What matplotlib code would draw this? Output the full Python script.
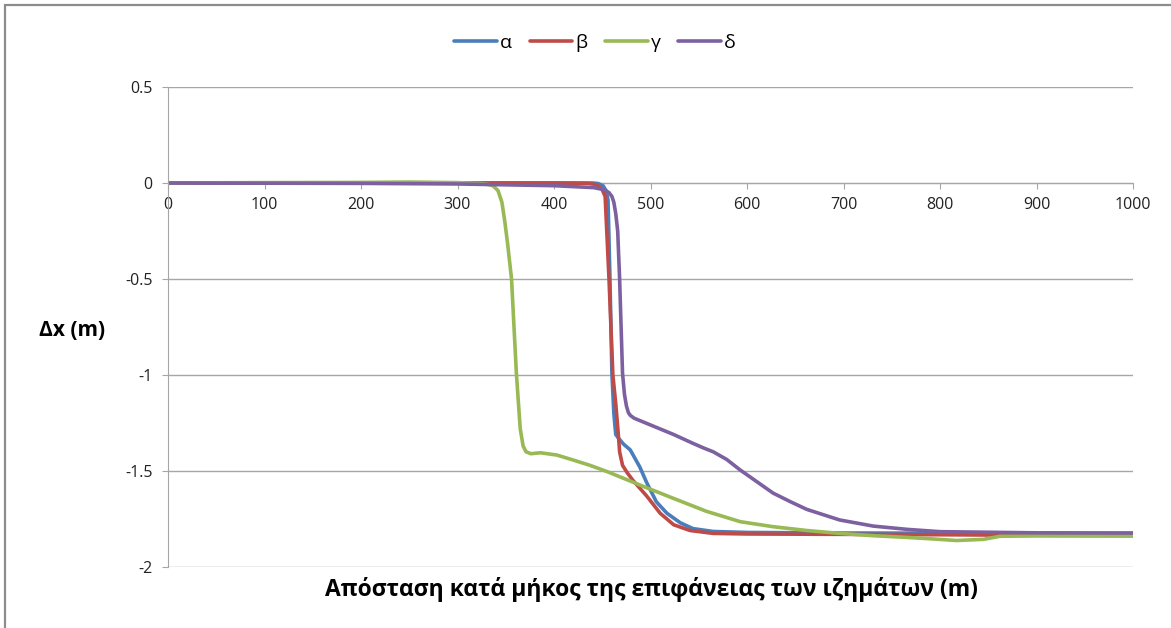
import matplotlib.pyplot as plt
from matplotlib.patches import Rectangle

plt.rcParams['font.family'] = ['Open Sans', 'DejaVu Sans']

# Δεδομένα (διαβασμένα από το γράφημα)
alpha_x = [0, 100, 200, 300, 400, 440, 446, 451, 454, 456, 458, 460, 462, 464, 467, 472, 479, 489,
           496, 506, 517, 531, 544, 565, 600, 700, 800, 900, 1000]
alpha_y = [0, 0, 0, 0, 0, 0, -0.003, -0.015, -0.04, -0.09, -0.5, -0.99, -1.2, -1.31, -1.33, -1.36, -1.39, -1.48,
           -1.56, -1.66, -1.72, -1.77, -1.80, -1.815, -1.82, -1.823, -1.824, -1.825, -1.825]

beta_x = [0, 100, 200, 300, 400, 435, 441, 446, 450, 453, 457, 461, 464, 466.5, 468, 471, 476, 482, 496,
          510, 524, 541, 565, 600, 700, 800, 900, 1000]
beta_y = [0, 0, 0, 0, 0, -0.002, -0.006, -0.015, -0.035, -0.07, -0.5, -1.0, -1.15, -1.3, -1.40, -1.47, -1.51,
          -1.55, -1.63, -1.72, -1.78, -1.81, -1.825, -1.828, -1.83, -1.832, -1.835, -1.837]

gamma_x = [0, 100, 200, 250, 300, 325, 332, 337, 342, 346, 349, 352, 356, 361, 365, 368, 371, 376, 386,
           403, 420, 437, 455, 489, 524, 558, 593, 627, 662, 696, 731, 766, 790, 817, 845, 862, 900, 1000]
gamma_y = [0, 0.002, 0.003, 0.005, 0.002, -0.003, -0.008, -0.015, -0.04, -0.1, -0.2, -0.32, -0.5, -0.99,
           -1.28, -1.37, -1.40, -1.41, -1.405, -1.417, -1.443, -1.47, -1.503, -1.573, -1.643, -1.71, -1.764,
           -1.79, -1.81, -1.825, -1.837, -1.846, -1.853, -1.862, -1.856, -1.84, -1.838, -1.838]

delta_x = [0, 200, 300, 400, 441, 452, 457, 460, 462, 464, 466, 468, 471, 473, 475, 477, 479, 483, 524,
           544, 555, 565, 579, 593, 610, 627, 645, 662, 696, 731, 766, 800, 900, 1000]
delta_y = [0, -0.002, -0.005, -0.014, -0.024, -0.035, -0.05, -0.07, -0.1, -0.16, -0.25, -0.5, -0.99, -1.1,
           -1.16, -1.195, -1.21, -1.225, -1.31, -1.356, -1.38, -1.40, -1.44, -1.495, -1.555, -1.615, -1.66,
           -1.70, -1.755, -1.787, -1.804, -1.816, -1.822, -1.823]

series = [
    ("α", alpha_x, alpha_y, "#4A7EBB"),
    ("β", beta_x, beta_y, "#BE4B48"),
    ("γ", gamma_x, gamma_y, "#98B954"),
    ("δ", delta_x, delta_y, "#7D60A0"),
]

x_ticks = list(range(0, 1001, 100))
y_ticks = [0.5, 0, -0.5, -1, -1.5, -2]
y_tick_labels = ["0.5", "0", "-0.5", "-1", "-1.5", "-2"]

GRID = "#A6A6A6"

fig = plt.figure(figsize=(11.71, 6.28), dpi=100)
ax = fig.add_axes([168 / 1171, 1 - 567 / 628, (1133 - 168) / 1171, (567 - 87) / 628])

for name, xs, ys, col in series:
    ax.plot(xs, ys, color=col, lw=2.6, label=name, solid_capstyle="round", solid_joinstyle="round")

ax.set_xlim(0, 1000)
ax.set_ylim(-2, 0.5)
ax.set_xticks(x_ticks)
ax.set_yticks(y_ticks)
ax.set_yticklabels(y_tick_labels)

ax.grid(axis="y", color=GRID, lw=1)
ax.set_axisbelow(True)
for s in ["top", "right"]:
    ax.spines[s].set_visible(False)
ax.spines["bottom"].set_position(("data", 0))
ax.spines["bottom"].set_color(GRID)
ax.spines["left"].set_color(GRID)
ax.spines["bottom"].set_zorder(0.5)
ax.tick_params(axis="x", direction="out", length=4, color=GRID, pad=6, labelsize=11.5, labelcolor="#222222")
ax.tick_params(axis="y", direction="out", length=4, color=GRID, pad=7, labelsize=11.5, labelcolor="#222222")

fig.text(72 / 1171, 1 - 330 / 628, "Δx (m)", ha="center", va="center", fontsize=15, fontweight="bold")
fig.text(651 / 1171, 1 - 589 / 628, "Απόσταση κατά μήκος της επιφάνειας των ιζημάτων (m)",
         ha="center", va="center", fontsize=16.5, fontweight="bold")

fig.legend(loc="center", bbox_to_anchor=(595 / 1171, 1 - 43 / 628), ncol=4, frameon=False,
           fontsize=14, handlelength=2.2, handletextpad=0.15, columnspacing=0.9)

# περίγραμμα γραφήματος
fig.patches.append(Rectangle((5.5 / 1171, -0.05), 1.1, 1 - 5.5 / 628 + 0.05, transform=fig.transFigure,
                             fill=False, edgecolor="#8C8C8C", lw=1.6))

fig.savefig("out.png", dpi=100)
